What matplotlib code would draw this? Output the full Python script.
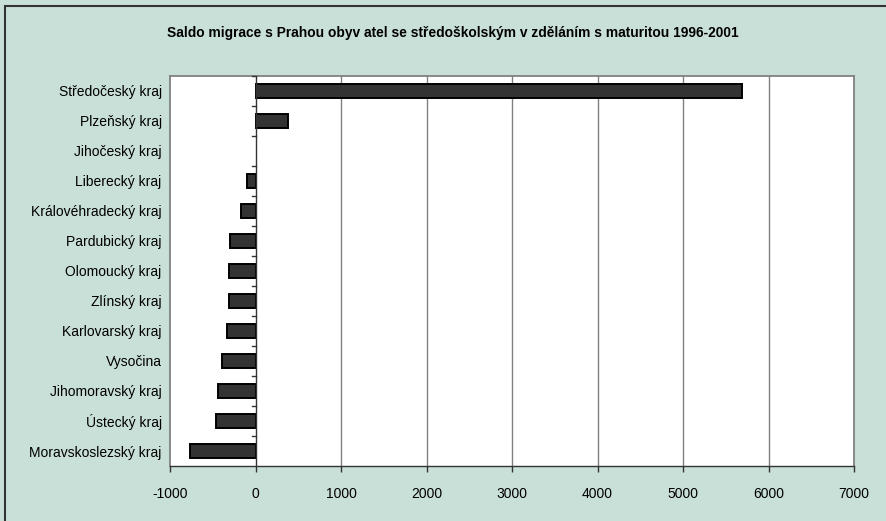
#!/usr/bin/env python3
# saldo migrace s prahou - horizontal bar chart

import matplotlib.pyplot as plt
from matplotlib.patches import Rectangle

regions = ['Středočeský kraj', 'Plzeňský kraj', 'Jihočeský kraj', 'Liberecký kraj',
           'Královéhradecký kraj', 'Pardubický kraj', 'Olomoucký kraj', 'Zlínský kraj',
           'Karlovarský kraj', 'Vysočina', 'Jihomoravský kraj', 'Ústecký kraj',
           'Moravskoslezský kraj']
saldo = [5690, 375, 0, -100, -175, -293, -312, -315, -335, -386, -433, -457, -761]
x_ticks = [-1000, 0, 1000, 2000, 3000, 4000, 5000, 6000, 7000]

bg = '#c9e0d8'
plt.rcParams['font.family'] = ['Liberation Sans', 'DejaVu Sans']

fig = plt.figure(figsize=(8.86, 5.21), dpi=100, facecolor=bg)
ax = fig.add_axes([170 / 886, 1 - 466 / 521, (854 - 170) / 886, (466 - 76) / 521])
ax.set_facecolor('white')

# outer frame (left/top visible, rest runs off the edge)
fig.patches.append(Rectangle((5 / 886, -0.05), 1.0, 1 - 6 / 521 + 0.05,
                             transform=fig.transFigure, fill=False,
                             edgecolor='#333333', linewidth=1.5, zorder=0))

n = len(regions)
ypos = list(range(n))[::-1]
# zero-valued bars get no outline, like the original
edge_w = [1.4 if v != 0 else 0 for v in saldo]
ax.barh(ypos, saldo, height=0.45, color='#333333', edgecolor='black',
        linewidth=edge_w, zorder=3)

ax.set_xlim(-1000, 7000)
ax.set_ylim(-0.5, n - 0.5)
ax.set_xticks(x_ticks)
ax.set_xticklabels([str(t) for t in x_ticks], fontsize=10)
ax.set_yticks(ypos)
ax.set_yticklabels(regions, fontsize=10)
ax.tick_params(axis='y', length=0, pad=6)
ax.tick_params(axis='x', length=4, width=1, color='#333333', direction='out', pad=11)

# gridlines
for t in x_ticks[2:-1]:
    ax.axvline(t, color='#808080', linewidth=1, zorder=1)

# category axis at zero with ticks between categories
ax.axvline(0, color='#333333', linewidth=1, zorder=4)
for b in range(1, n + 1):
    ax.plot([-45, 0], [b - 0.5, b - 0.5], color='#333333', linewidth=1,
            zorder=4, clip_on=False)

for side in ['left', 'right', 'top']:
    ax.spines[side].set_color('#808080')
    ax.spines[side].set_linewidth(1.3)
ax.spines['bottom'].set_color('#333333')
ax.spines['bottom'].set_linewidth(1)

fig.text(453 / 886, 1 - 33 / 521, 'Saldo migrace s Prahou obyv atel se středoškolským v zděláním s maturitou 1996-2001',
         ha='center', va='center', fontsize=9.9, fontweight='bold')

fig.savefig('out.png', dpi=100, facecolor=bg)
